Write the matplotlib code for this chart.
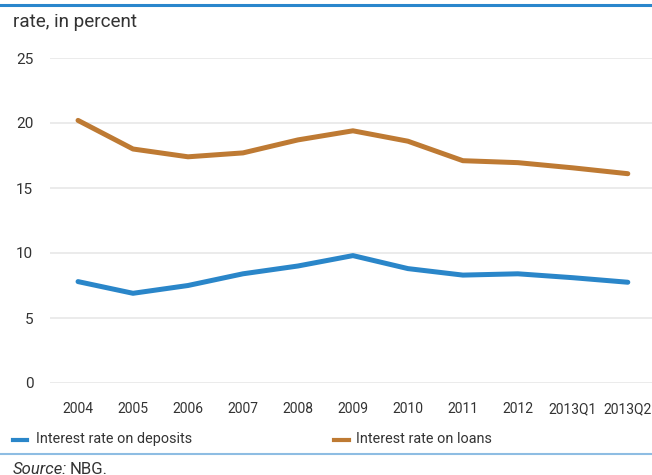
import matplotlib.pyplot as plt
from matplotlib.lines import Line2D

years = ['2004', '2005', '2006', '2007', '2008', '2009', '2010',
         '2011', '2012', '2013Q1', '2013Q2']
deposits = [7.8, 6.9, 7.5, 8.4, 9.0, 9.8, 8.8, 8.3, 8.4, 8.1, 7.75]
loans = [20.2, 18.0, 17.4, 17.7, 18.7, 19.4, 18.6, 17.1, 16.95, 16.55, 16.1]
yticks = [0, 5, 10, 15, 20, 25]

c_dep = '#2a86c9'
c_loan = '#be7a33'
txt = '#333333'

plt.rcParams['font.family'] = ['Roboto', 'DejaVu Sans']

W, H = 652, 475
fig = plt.figure(figsize=(W / 100, H / 100), dpi=100)
ax = fig.add_axes([50/W, 1 - 383/H, 602/W, 325/H])

x = list(range(len(years)))
ax.plot(x, deposits, color=c_dep, lw=3.6, solid_capstyle='round',
        solid_joinstyle='round', clip_on=False)
ax.plot(x, loans, color=c_loan, lw=3.6, solid_capstyle='round',
        solid_joinstyle='round', clip_on=False)

ax.set_xlim(-0.51, 10.44)
ax.set_ylim(0, 25)
ax.set_yticks(yticks)
ax.set_xticks(x)
ax.set_xticklabels(years)
ax.grid(axis='y', color='#e8e8e8', lw=1.2)
ax.set_axisbelow(True)
for s in ax.spines.values():
    s.set_visible(False)
ax.tick_params(length=0, labelcolor=txt)
ax.tick_params(axis='y', pad=12, labelsize=11)
ax.tick_params(axis='x', pad=14, labelsize=10)

# frame lines
fig.add_artist(Line2D([0, 1], [1 - 5/H] * 2, color='#2a86cc', lw=2.2))
fig.add_artist(Line2D([0, 1], [1 - 454/H] * 2, color='#8ebde3', lw=1.5))

fig.text(13/W, 1 - 22/H, 'rate, in percent', fontsize=13.6, color=txt, va='center')

# legend
fig.add_artist(Line2D([13/W, 27/W], [1 - 440/H] * 2, color=c_dep, lw=3))
fig.text(36/W, 1 - 439/H, 'Interest rate on deposits', fontsize=10.4,
         color=txt, va='center')
fig.add_artist(Line2D([334/W, 349/W], [1 - 440/H] * 2, color=c_loan, lw=3))
fig.text(356/W, 1 - 439/H, 'Interest rate on loans', fontsize=10.4,
         color=txt, va='center')

fig.text(13/W, 1 - 469/H, 'Source:', fontsize=12, color=txt,
         va='center', style='italic')
fig.text(70/W, 1 - 469/H, 'NBG.', fontsize=12, color=txt, va='center')

fig.savefig('out.png', dpi=100)
